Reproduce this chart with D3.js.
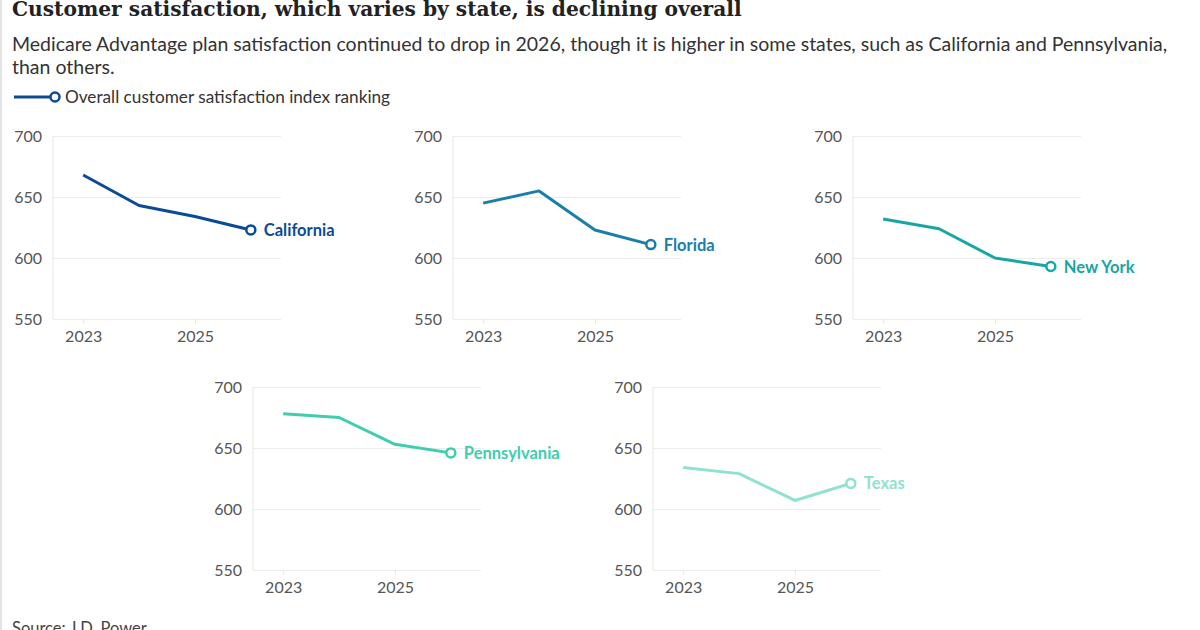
<!DOCTYPE html>
<html>
<head>
<meta charset="utf-8">
<script src="https://cdn.jsdelivr.net/npm/d3@7"></script>
<style>
  body { margin: 0; background: #fff; }
  text { font-family: Lato, "Open Sans", sans-serif; }
  .title { font-family: "DejaVu Serif", serif; font-weight: bold; fill: #222; }
  .tick text { fill: #555; font-size: 16px; }
  .state-label { font-weight: bold; font-size: 16.5px; }
</style>
</head>
<body>
<svg id="chart" width="1200" height="630"></svg>
<script>
// data
var years = [2023, 2024, 2025, 2026];
var states = ["California", "Florida", "New York", "Pennsylvania", "Texas"];
var california = [668, 643, 634, 623];
var florida = [645, 655, 623, 611];
var newYork = [632, 624, 600, 593];
var pennsylvania = [678, 675, 653, 646];
var texas = [634, 629, 607, 621];
var yTicks = [550, 600, 650, 700];
var xTicks = [2023, 2025];
var colors = ["#0b4a95", "#1a7eaa", "#17a6a6", "#3fcdb0", "#8ee2cf"];

var series = [california, florida, newYork, pennsylvania, texas];

// panel origins (left edge of the plot area, top of the plot area)
var panels = [
  {x: 53, y: 136}, {x: 453, y: 136}, {x: 853, y: 136},
  {x: 253, y: 387}, {x: 653, y: 387}
];
var pw = 228, ph = 183;

var svg = d3.select("#chart");

// faint frame line on the left
svg.append("line")
    .attr("x1", 1).attr("x2", 1).attr("y1", 0).attr("y2", 630)
    .style("stroke", "#e4e4e4").style("stroke-width", 2);

svg.append("text")
    .attr("class", "title")
    .attr("x", 12).attr("y", 16)
    .style("font-size", "20.2px")
    .text("Customer satisfaction, which varies by state, is declining overall");

svg.append("text")
    .attr("x", 12).attr("y", 51)
    .style("font-size", "19.5px").style("fill", "#333")
    .text("Medicare Advantage plan satisfaction continued to drop in 2026, though it is higher in some states, such as California and Pennsylvania,");
svg.append("text")
    .attr("x", 12).attr("y", 74)
    .style("font-size", "19.5px").style("fill", "#333")
    .text("than others.");

// legend
var lg = svg.append("g").attr("transform", "translate(14,97)");
lg.append("line").attr("x1", 0).attr("x2", 37)
    .style("stroke", colors[0]).style("stroke-width", 3);
lg.append("circle").attr("cx", 41).attr("r", 4.5)
    .style("fill", "#fff").style("stroke", colors[0]).style("stroke-width", 2.5);
lg.append("text").attr("x", 51).attr("y", 5.5)
    .style("font-size", "17.2px").style("fill", "#333")
    .text("Overall customer satisfaction index ranking");

var x = d3.scalePoint().domain(years).range([0, pw]).padding(0.54);
var y = d3.scaleLinear().domain([550, 700]).range([ph, 0]);

var line = d3.line()
    .x(function(d, i) { return x(years[i]); })
    .y(function(d) { return y(d); });

states.forEach(function(name, k) {
  var p = panels[k];
  var g = svg.append("g").attr("transform", "translate(" + p.x + "," + p.y + ")");
  var col = colors[k];

  // gridlines + y labels
  var ya = g.append("g")
      .call(d3.axisLeft(y).tickValues(yTicks).tickSize(-pw).tickPadding(11));
  ya.select(".domain").remove();
  ya.selectAll(".tick line").style("stroke", "#ececec");

  // vertical axis line
  g.append("line").attr("x1", 0).attr("x2", 0).attr("y1", 0).attr("y2", ph)
      .style("stroke", "#e6e6e6");

  var xa = g.append("g")
      .attr("transform", "translate(0," + ph + ")")
      .call(d3.axisBottom(x).tickValues(xTicks).tickSize(5).tickPadding(7));
  xa.select(".domain").remove();
  xa.selectAll(".tick line").style("stroke", "#e6e6e6");

  var vals = series[k];
  g.append("path")
      .datum(vals)
      .attr("d", line)
      .style("fill", "none")
      .style("stroke", col)
      .style("stroke-width", 3)
      .style("stroke-linejoin", "round");

  var last = vals.length - 1;
  g.append("circle")
      .attr("cx", x(years[last])).attr("cy", y(vals[last])).attr("r", 4.5)
      .style("fill", "#fff").style("stroke", col).style("stroke-width", 2.5);

  g.append("text")
      .attr("class", "state-label")
      .attr("x", x(years[last]) + 13).attr("y", y(vals[last]) + 6)
      .style("fill", col)
      .text(name);
});

svg.append("text")
    .attr("x", 12).attr("y", 634)
    .style("font-size", "16.5px").style("fill", "#444")
    .text("Source: J.D. Power");
</script>
</body>
</html>
